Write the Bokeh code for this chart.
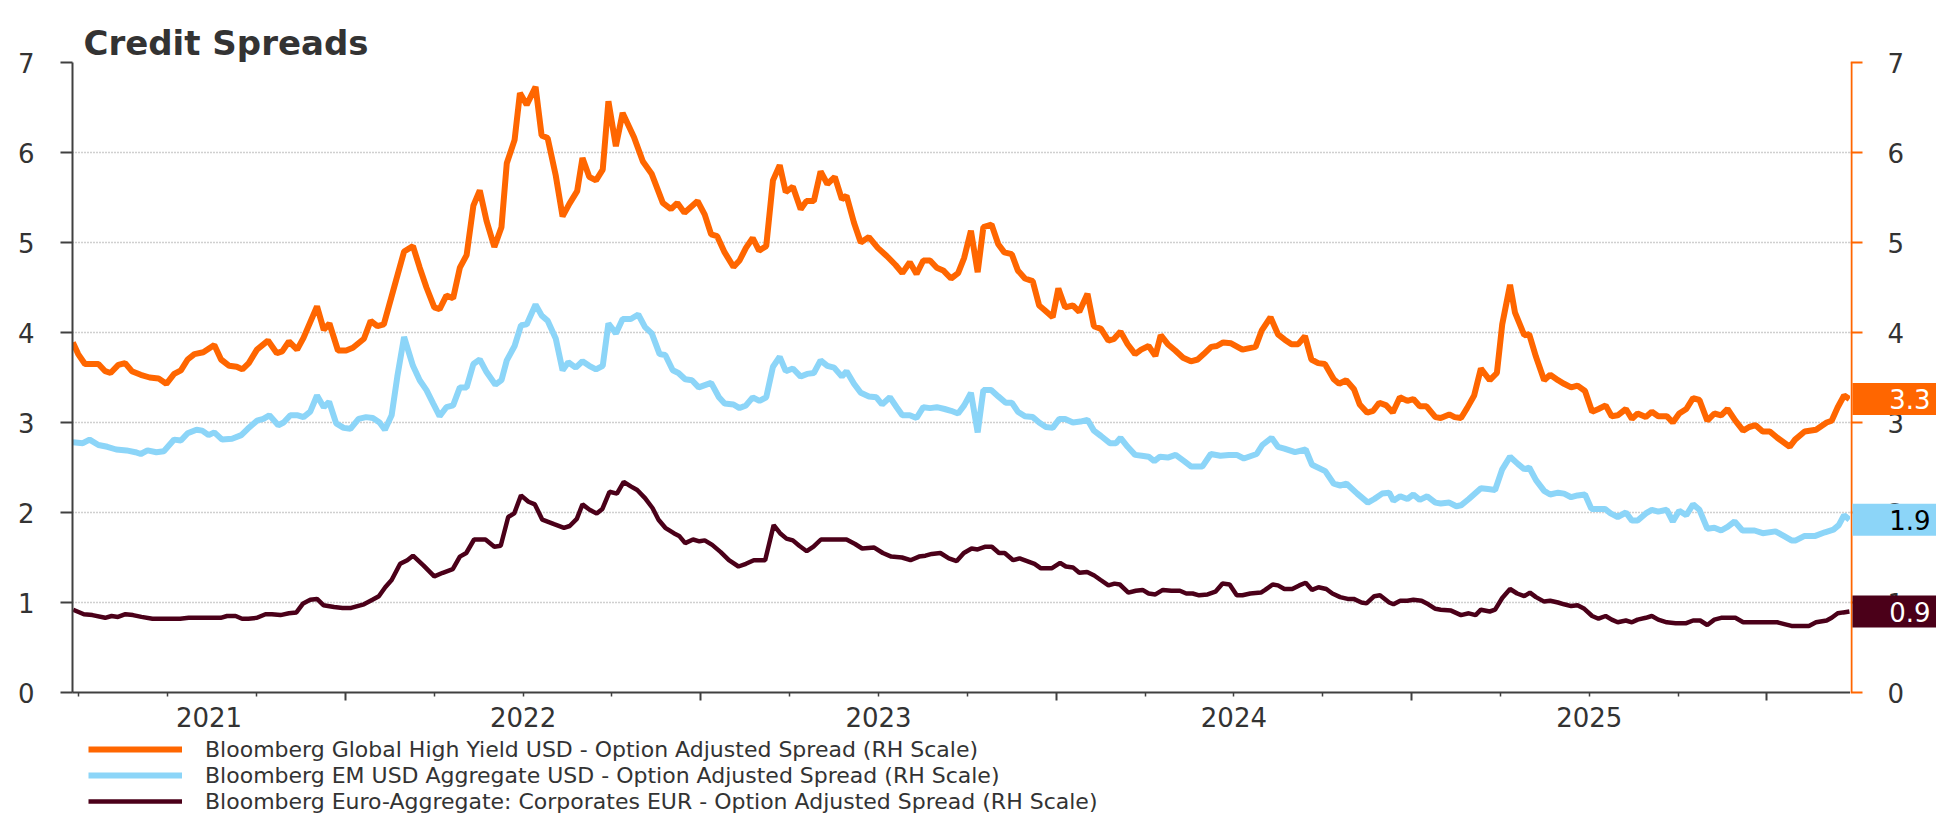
from bokeh.plotting import figure
from bokeh.layouts import row, column
from bokeh.models import (Range1d, LinearAxis, FixedTicker, CustomJSTickFormatter,
                          Legend, LegendItem)
from bokeh.core.properties import value
from bokeh.embed import file_html
from bokeh.resources import INLINE

# ---------------- data (decimal years, spread in %) ----------------
title_text = "Credit Spreads"
series_names = [
    "Bloomberg Global High Yield USD - Option Adjusted Spread (RH Scale)",
    "Bloomberg EM USD Aggregate USD - Option Adjusted Spread (RH Scale)",
    "Bloomberg Euro-Aggregate: Corporates EUR - Option Adjusted Spread (RH Scale)",
]
end_labels = ["3.3", "1.9", "0.9"]
y_ticks = [0, 1, 2, 3, 4, 5, 6, 7]
grid_ticks = [1, 2, 3, 4, 5, 6, 7]
x_start, x_end = 2021.232, 2026.235

hy_t = [
    2021.233, 2021.248, 2021.267, 2021.305, 2021.324, 2021.339, 2021.361, 2021.380, 2021.399, 2021.424,
    2021.449, 2021.474, 2021.496, 2021.518, 2021.537, 2021.556, 2021.575, 2021.600, 2021.631, 2021.650,
    2021.673, 2021.694, 2021.710, 2021.728, 2021.751, 2021.782, 2021.807, 2021.822, 2021.841, 2021.864,
    2021.882, 2021.920, 2021.939, 2021.955, 2021.979, 2022.002, 2022.021, 2022.052, 2022.071, 2022.090,
    2022.108, 2022.134, 2022.165, 2022.190, 2022.209, 2022.228, 2022.250, 2022.265, 2022.284, 2022.303,
    2022.322, 2022.341, 2022.360, 2022.378, 2022.397, 2022.419, 2022.439, 2022.454, 2022.476, 2022.491,
    2022.510, 2022.535, 2022.552, 2022.569, 2022.592, 2022.611, 2022.630, 2022.652, 2022.667, 2022.686,
    2022.705, 2022.724, 2022.740, 2022.761, 2022.780, 2022.812, 2022.837, 2022.862, 2022.893, 2022.916,
    2022.934, 2022.954, 2022.991,
    2023.011, 2023.029, 2023.046, 2023.067, 2023.092, 2023.109, 2023.127, 2023.146, 2023.164, 2023.184,
    2023.203, 2023.222, 2023.239, 2023.259, 2023.281, 2023.297, 2023.318, 2023.337, 2023.356, 2023.377,
    2023.397, 2023.410, 2023.431, 2023.450, 2023.473, 2023.498, 2023.523, 2023.548, 2023.567, 2023.588,
    2023.607, 2023.626, 2023.645, 2023.664, 2023.682, 2023.704, 2023.724, 2023.741, 2023.760, 2023.779,
    2023.795, 2023.818, 2023.837, 2023.854, 2023.875, 2023.892, 2023.912, 2023.934, 2023.952, 2023.967,
    2023.990, 2024.006, 2024.025, 2024.047, 2024.065, 2024.088, 2024.106, 2024.126, 2024.147, 2024.163,
    2024.181, 2024.201, 2024.222, 2024.239, 2024.260, 2024.279, 2024.294, 2024.314, 2024.335, 2024.357,
    2024.379, 2024.398, 2024.415, 2024.436, 2024.452, 2024.470, 2024.492, 2024.524, 2024.561, 2024.578,
    2024.603, 2024.624, 2024.643, 2024.662, 2024.681, 2024.700, 2024.718, 2024.737, 2024.756, 2024.781,
    2024.796, 2024.816, 2024.838, 2024.854, 2024.875, 2024.892, 2024.909, 2024.929, 2024.947, 2024.967,
    2024.988, 2025.005, 2025.023, 2025.042, 2025.067, 2025.082, 2025.106, 2025.121, 2025.139, 2025.156,
    2025.176, 2025.195, 2025.220, 2025.240, 2025.255, 2025.277, 2025.291, 2025.317, 2025.331, 2025.350,
    2025.373, 2025.390, 2025.412, 2025.429, 2025.449, 2025.467, 2025.488, 2025.508, 2025.526, 2025.546,
    2025.563, 2025.580, 2025.603, 2025.620, 2025.636, 2025.659, 2025.676, 2025.694, 2025.718, 2025.735,
    2025.753, 2025.773, 2025.792, 2025.810, 2025.832, 2025.852, 2025.871, 2025.889, 2025.911, 2025.933,
    2025.950, 2025.968, 2025.988, 2026.008, 2026.029, 2026.064, 2026.079, 2026.106, 2026.138, 2026.168,
    2026.182, 2026.199, 2026.217, 2026.232,
]
hy_v = [
    3.89, 3.76, 3.65, 3.65, 3.57, 3.55, 3.64, 3.66, 3.57, 3.53,
    3.50, 3.49, 3.43, 3.54, 3.58, 3.70, 3.76, 3.78, 3.86, 3.70,
    3.63, 3.62, 3.59, 3.66, 3.81, 3.91, 3.77, 3.79, 3.90, 3.81,
    3.94, 4.29, 4.03, 4.10, 3.80, 3.80, 3.83, 3.93, 4.13, 4.07,
    4.09, 4.46, 4.90, 4.96, 4.72, 4.50, 4.28, 4.26, 4.41, 4.38,
    4.72, 4.86, 5.41, 5.58, 5.24, 4.95, 5.17, 5.88, 6.14, 6.66,
    6.53, 6.73, 6.19, 6.16, 5.74, 5.29, 5.43, 5.57, 5.94, 5.73,
    5.69, 5.81, 6.57, 6.07, 6.44, 6.17, 5.90, 5.76, 5.44, 5.37,
    5.44, 5.33, 5.46,
    5.31, 5.09, 5.07, 4.89, 4.73, 4.80, 4.94, 5.05, 4.91, 4.96,
    5.69, 5.86, 5.56, 5.62, 5.37, 5.46, 5.46, 5.79, 5.65, 5.73,
    5.48, 5.52, 5.22, 5.00, 5.06, 4.94, 4.85, 4.75, 4.66, 4.78,
    4.65, 4.80, 4.80, 4.72, 4.69, 4.60, 4.66, 4.83, 5.13, 4.67,
    5.17, 5.20, 4.98, 4.89, 4.87, 4.69, 4.60, 4.57, 4.30, 4.25,
    4.17, 4.49, 4.28, 4.30, 4.23, 4.43, 4.07, 4.04, 3.91, 3.93,
    4.01, 3.87, 3.76, 3.81, 3.85, 3.74, 3.97, 3.87, 3.80, 3.72,
    3.68, 3.70, 3.76, 3.84, 3.85, 3.89, 3.88, 3.81, 3.84, 4.02,
    4.17, 3.98, 3.92, 3.87, 3.87, 3.96, 3.70, 3.66, 3.65, 3.48,
    3.43, 3.47, 3.37, 3.20, 3.11, 3.13, 3.22, 3.19, 3.11, 3.28,
    3.24, 3.26, 3.18, 3.18, 3.06, 3.05, 3.09, 3.06, 3.05, 3.16,
    3.30, 3.60, 3.47, 3.55, 4.09, 4.53, 4.22, 3.97, 3.98, 3.73,
    3.47, 3.53, 3.47, 3.43, 3.39, 3.41, 3.35, 3.12, 3.15, 3.19,
    3.07, 3.08, 3.15, 3.04, 3.10, 3.06, 3.12, 3.07, 3.07, 3.00,
    3.10, 3.15, 3.27, 3.25, 3.02, 3.10, 3.08, 3.15, 3.02, 2.91,
    2.95, 2.97, 2.90, 2.90, 2.83, 2.73, 2.81, 2.90, 2.92, 3.00,
    3.02, 3.17, 3.30, 3.26,
]

em_t = [
    2021.233, 2021.261, 2021.280, 2021.305, 2021.330, 2021.355, 2021.384, 2021.409, 2021.424, 2021.443,
    2021.468, 2021.489, 2021.518, 2021.537, 2021.556, 2021.581, 2021.597, 2021.615, 2021.631, 2021.653,
    2021.681, 2021.707, 2021.725, 2021.751, 2021.769, 2021.786, 2021.811, 2021.826, 2021.845, 2021.866,
    2021.882, 2021.901, 2021.920, 2021.939, 2021.954, 2021.974, 2021.995, 2022.014, 2022.037, 2022.058,
    2022.077, 2022.096, 2022.111, 2022.130, 2022.146, 2022.165, 2022.190, 2022.209, 2022.228, 2022.247,
    2022.265, 2022.284, 2022.303, 2022.322, 2022.341, 2022.360, 2022.378, 2022.397, 2022.422, 2022.439,
    2022.454, 2022.476, 2022.494, 2022.510, 2022.535, 2022.552, 2022.569, 2022.592, 2022.611, 2022.627,
    2022.648, 2022.667, 2022.686, 2022.705, 2022.724, 2022.740, 2022.761, 2022.780, 2022.803, 2022.824,
    2022.843, 2022.862, 2022.884, 2022.900, 2022.921, 2022.937, 2022.956, 2022.975, 2022.994,
    2023.029, 2023.051, 2023.067, 2023.092, 2023.109, 2023.127, 2023.146, 2023.165, 2023.184, 2023.203,
    2023.222, 2023.239, 2023.259, 2023.281, 2023.299, 2023.318, 2023.337, 2023.356, 2023.375, 2023.397,
    2023.410, 2023.431, 2023.450, 2023.473, 2023.494, 2023.510, 2023.532, 2023.551, 2023.567, 2023.588,
    2023.607, 2023.626, 2023.645, 2023.664, 2023.686, 2023.704, 2023.724, 2023.741, 2023.760, 2023.779,
    2023.795, 2023.817, 2023.837, 2023.858, 2023.875, 2023.892, 2023.912, 2023.934, 2023.952, 2023.971,
    2023.990, 2024.009, 2024.025, 2024.047, 2024.068, 2024.088, 2024.106, 2024.126, 2024.151, 2024.168,
    2024.181, 2024.201, 2024.222, 2024.241, 2024.260, 2024.276, 2024.292, 2024.314,
    2024.336, 2024.360, 2024.380, 2024.411, 2024.435, 2024.462, 2024.486, 2024.508, 2024.528, 2024.564,
    2024.580, 2024.606, 2024.624, 2024.642, 2024.672, 2024.702, 2024.720, 2024.757, 2024.781, 2024.799,
    2024.817, 2024.847, 2024.877, 2024.895, 2024.917, 2024.937,
    2024.949, 2024.968, 2024.988, 2025.005, 2025.023, 2025.044, 2025.067, 2025.082, 2025.106, 2025.126,
    2025.139, 2025.161, 2025.195, 2025.215, 2025.235, 2025.255, 2025.277, 2025.299, 2025.317, 2025.331,
    2025.350, 2025.373, 2025.390, 2025.412, 2025.429, 2025.449, 2025.467, 2025.488, 2025.506, 2025.524,
    2025.544, 2025.560, 2025.580, 2025.603, 2025.620, 2025.636, 2025.659, 2025.676, 2025.694, 2025.718,
    2025.735, 2025.753, 2025.773, 2025.792, 2025.810, 2025.832, 2025.852, 2025.871, 2025.889, 2025.909,
    2025.931, 2025.965, 2025.988, 2026.024, 2026.047, 2026.069, 2026.081, 2026.106, 2026.136, 2026.163,
    2026.187, 2026.202, 2026.217, 2026.232,
]
em_v = [
    2.78, 2.77, 2.81, 2.75, 2.73, 2.70, 2.69, 2.67, 2.65, 2.69,
    2.67, 2.68, 2.81, 2.80, 2.88, 2.92, 2.91, 2.86, 2.89, 2.81,
    2.82, 2.86, 2.93, 3.02, 3.04, 3.08, 2.97, 3.00, 3.08, 3.08,
    3.06, 3.12, 3.30, 3.17, 3.23, 2.99, 2.94, 2.93, 3.04, 3.06,
    3.05, 3.00, 2.92, 3.08, 3.51, 3.95, 3.63, 3.47, 3.36, 3.21,
    3.07, 3.17, 3.19, 3.39, 3.39, 3.65, 3.70, 3.56, 3.42, 3.47,
    3.69, 3.85, 4.08, 4.09, 4.31, 4.19, 4.13, 3.93, 3.58, 3.67,
    3.61, 3.68, 3.63, 3.59, 3.63, 4.10, 3.99, 4.15, 4.15, 4.20,
    4.06, 3.99, 3.76, 3.75, 3.58, 3.55, 3.48, 3.47, 3.39,
    3.44, 3.28, 3.21, 3.20, 3.16, 3.19, 3.28, 3.24, 3.28, 3.62,
    3.73, 3.57, 3.60, 3.51, 3.54, 3.55, 3.69, 3.63, 3.61, 3.51,
    3.57, 3.43, 3.33, 3.29, 3.28, 3.20, 3.28, 3.17, 3.08, 3.08,
    3.05, 3.17, 3.16, 3.17, 3.15, 3.13, 3.10, 3.19, 3.33, 2.89,
    3.36, 3.36, 3.29, 3.22, 3.22, 3.12, 3.07, 3.06, 3.00, 2.95,
    2.94, 3.04, 3.04, 3.00, 3.01, 3.03, 2.91, 2.85, 2.77, 2.77,
    2.83, 2.73, 2.64, 2.63, 2.62, 2.57, 2.62, 2.61,
    2.64, 2.57, 2.51, 2.51, 2.65, 2.63, 2.64, 2.64, 2.60, 2.65,
    2.75, 2.83, 2.73, 2.71, 2.67, 2.70, 2.53, 2.46, 2.32, 2.30,
    2.32, 2.21, 2.11, 2.15, 2.21, 2.22,
    2.13, 2.18, 2.15, 2.20, 2.14, 2.18, 2.11, 2.10, 2.11, 2.07,
    2.08, 2.15, 2.27, 2.26, 2.25, 2.48, 2.62, 2.54, 2.48, 2.50,
    2.36, 2.24, 2.20, 2.22, 2.21, 2.17, 2.19, 2.20, 2.04, 2.04,
    2.04, 1.99, 1.95, 2.00, 1.91, 1.91, 1.99, 2.03, 2.01, 2.03,
    1.90, 2.02, 1.97, 2.09, 2.03, 1.82, 1.83, 1.80, 1.84, 1.90,
    1.80, 1.80, 1.77, 1.79, 1.74, 1.69, 1.69, 1.74, 1.74, 1.78,
    1.81, 1.86, 1.97, 1.92,
]

eu_t = [
    2021.234, 2021.264, 2021.288, 2021.324, 2021.342, 2021.360, 2021.381, 2021.402, 2021.426, 2021.457,
    2021.487, 2021.535, 2021.559, 2021.595, 2021.649, 2021.667, 2021.691, 2021.709, 2021.727, 2021.751,
    2021.775, 2021.793, 2021.817, 2021.841, 2021.862, 2021.881, 2021.901, 2021.920, 2021.938, 2021.968,
    2021.992, 2022.016, 2022.052, 2022.076, 2022.094, 2022.112, 2022.130, 2022.154, 2022.174, 2022.190,
    2022.220, 2022.250, 2022.274, 2022.302, 2022.322, 2022.340, 2022.362, 2022.394, 2022.419, 2022.437,
    2022.458, 2022.475, 2022.494, 2022.515, 2022.533, 2022.554, 2022.587, 2022.615, 2022.631, 2022.651,
    2022.667, 2022.687, 2022.707, 2022.723, 2022.743, 2022.764, 2022.783, 2022.803, 2022.821, 2022.843,
    2022.864, 2022.881, 2022.900, 2022.924, 2022.939, 2022.956, 2022.978, 2022.996, 2023.011, 2023.032,
    2023.056,
    2023.079, 2023.106, 2023.127, 2023.149, 2023.181, 2023.205, 2023.223, 2023.241, 2023.259, 2023.277,
    2023.298, 2023.317, 2023.338, 2023.410, 2023.434, 2023.454, 2023.488, 2023.512, 2023.536, 2023.566,
    2023.590, 2023.614, 2023.632, 2023.650, 2023.674, 2023.698, 2023.720, 2023.740, 2023.762, 2023.779,
    2023.801, 2023.819, 2023.839, 2023.855, 2023.879, 2023.897, 2023.918, 2023.939, 2023.957, 2023.987,
    2024.011, 2024.027, 2024.047, 2024.065, 2024.087, 2024.107, 2024.125, 2024.147, 2024.164, 2024.179,
    2024.203, 2024.224, 2024.243, 2024.260, 2024.279, 2024.300, 2024.324, 2024.348, 2024.366, 2024.384,
    2024.402, 2024.426, 2024.448, 2024.468, 2024.488, 2024.508, 2024.524, 2024.546, 2024.576, 2024.588,
    2024.609, 2024.624, 2024.642, 2024.664, 2024.684, 2024.702, 2024.720, 2024.738, 2024.760, 2024.777,
    2024.799, 2024.820, 2024.837, 2024.859, 2024.873, 2024.895, 2024.911, 2024.937,
    2024.949, 2024.968, 2024.988, 2025.005, 2025.028, 2025.047, 2025.067, 2025.082, 2025.111, 2025.139,
    2025.161, 2025.180, 2025.195, 2025.220, 2025.235, 2025.255, 2025.277, 2025.297, 2025.317, 2025.333,
    2025.350, 2025.373, 2025.390, 2025.412, 2025.429, 2025.449, 2025.467, 2025.486, 2025.508, 2025.526,
    2025.546, 2025.563, 2025.580, 2025.603, 2025.620, 2025.636, 2025.659, 2025.676, 2025.694, 2025.718,
    2025.743, 2025.773, 2025.792, 2025.812, 2025.832, 2025.852, 2025.871, 2025.911, 2025.933, 2025.970,
    2026.029, 2026.049, 2026.069, 2026.118, 2026.138, 2026.168, 2026.182, 2026.199, 2026.215, 2026.232,
]
eu_v = [
    0.92, 0.87, 0.86, 0.83, 0.85, 0.84, 0.87, 0.86, 0.84, 0.82,
    0.82, 0.82, 0.83, 0.83, 0.83, 0.85, 0.85, 0.82, 0.82, 0.83,
    0.87, 0.87, 0.86, 0.88, 0.89, 0.99, 1.03, 1.04, 0.97, 0.95,
    0.94, 0.94, 0.98, 1.03, 1.07, 1.17, 1.25, 1.43, 1.47, 1.52,
    1.41, 1.29, 1.33, 1.37, 1.51, 1.55, 1.70, 1.70, 1.62, 1.63,
    1.95, 1.99, 2.19, 2.12, 2.09, 1.92, 1.87, 1.83, 1.85, 1.93,
    2.09, 2.03, 1.99, 2.04, 2.23, 2.21, 2.34, 2.29, 2.25, 2.16,
    2.05, 1.92, 1.83, 1.77, 1.74, 1.66, 1.70, 1.68, 1.69, 1.64,
    1.56,
    1.47, 1.40, 1.43, 1.47, 1.47, 1.86, 1.77, 1.71, 1.69, 1.63,
    1.57, 1.62, 1.70, 1.70, 1.65, 1.60, 1.61, 1.55, 1.51, 1.50,
    1.47, 1.51, 1.52, 1.54, 1.55, 1.49, 1.46, 1.55, 1.60, 1.59,
    1.62, 1.62, 1.55, 1.55, 1.47, 1.49, 1.46, 1.43, 1.38, 1.38,
    1.44, 1.40, 1.39, 1.33, 1.34, 1.30, 1.25, 1.19, 1.21, 1.20,
    1.11, 1.13, 1.14, 1.10, 1.09, 1.14, 1.13, 1.13, 1.10, 1.10,
    1.08, 1.09, 1.12, 1.21, 1.20, 1.08, 1.08, 1.10, 1.11, 1.14,
    1.20, 1.19, 1.15, 1.15, 1.19, 1.22, 1.14, 1.17, 1.15, 1.10,
    1.06, 1.04, 1.04, 1.00, 0.99, 1.07, 1.08, 1.00,
    0.98, 1.02, 1.02, 1.03, 1.02, 0.98, 0.93, 0.92, 0.91, 0.86,
    0.88, 0.86, 0.92, 0.90, 0.92, 1.05, 1.15, 1.10, 1.07, 1.11,
    1.06, 1.01, 1.02, 1.00, 0.98, 0.96, 0.97, 0.93, 0.85, 0.82,
    0.85, 0.81, 0.78, 0.80, 0.78, 0.81, 0.83, 0.85, 0.81, 0.78,
    0.77, 0.77, 0.80, 0.80, 0.75, 0.81, 0.83, 0.83, 0.78, 0.78,
    0.78, 0.76, 0.74, 0.74, 0.78, 0.80, 0.83, 0.88, 0.89, 0.90,
]

# ---------------- style ----------------
FONT = "DejaVu Sans"
TXT = "#333333"
AXIS_GREY = "#404040"
ORANGE = "#FF6600"
BLUE = "#8CD5F8"
MAROON = "#4B0019"

W_TOTAL, H_TOTAL = 1936, 814
W_MAIN = 1850
W_SIDE = W_TOTAL - W_MAIN
H_MAIN = 736
H_LEG = H_TOTAL - H_MAIN
ML, MT, MB = 72, 62, 44
frame_h = H_MAIN - MT - MB
ppu = frame_h / 7.0          # pixels per spread unit

# ================= main chart =================
p = figure(width=W_MAIN, height=H_MAIN, x_range=Range1d(x_start, x_end), y_range=Range1d(0, 7),
           output_backend="svg", toolbar_location=None,
           min_border_left=ML, min_border_right=0, min_border_top=MT, min_border_bottom=MB)
p.outline_line_color = None
p.background_fill_color = "white"
p.border_fill_color = "white"

# x axis (the figure's own bottom axis): year boundaries and quarters, no labels
xa = p.below[0]
year_bounds = [y for y in range(2021, 2027) if x_start <= y <= x_end]
quarters = [y + q / 4 for y in range(2021, 2027) for q in (1, 2, 3) if x_start <= y + q / 4 <= x_end]
xa.ticker = FixedTicker(ticks=year_bounds, minor_ticks=quarters)
xa.formatter = CustomJSTickFormatter(code="return ''")
xa.major_label_text_font_size = "0px"
xa.major_label_standoff = 0
xa.axis_line_color = AXIS_GREY
xa.axis_line_width = 2
xa.major_tick_line_color = AXIS_GREY
xa.major_tick_line_width = 2
xa.major_tick_out = 8
xa.major_tick_in = 0
xa.minor_tick_line_color = AXIS_GREY
xa.minor_tick_line_width = 1.5
xa.minor_tick_out = 4
xa.minor_tick_in = 0

# left y axis
ya = p.left[0]
ya.ticker = FixedTicker(ticks=y_ticks)
ya.axis_line_color = AXIS_GREY
ya.axis_line_width = 2
ya.major_tick_line_color = AXIS_GREY
ya.major_tick_line_width = 2
ya.major_tick_out = 12
ya.major_tick_in = 0
ya.minor_tick_line_color = None
ya.major_label_standoff = 26
ya.major_label_text_font = FONT
ya.major_label_text_font_size = "26px"
ya.major_label_text_color = TXT

p.xgrid.visible = False
p.ygrid.ticker = FixedTicker(ticks=grid_ticks)
p.ygrid.grid_line_color = "#a0a0a0"
p.ygrid.grid_line_dash = "1 2"
p.ygrid.grid_line_width = 1.5

# year labels centred in each visible calendar year
label_pos = []
for y in range(2021, 2027):
    lo, hi = max(y, x_start), min(y + 1, x_end)
    if hi - lo > 0.3:
        label_pos.append((lo + hi) / 2)
xb = LinearAxis(ticker=FixedTicker(ticks=label_pos),
                formatter=CustomJSTickFormatter(code="return Math.floor(tick).toFixed(0)"))
xb.axis_line_color = None
xb.major_tick_line_color = None
xb.minor_tick_line_color = None
xb.major_tick_out = 0
xb.major_tick_in = 0
xb.major_label_standoff = 6
xb.major_label_text_font = FONT
xb.major_label_text_font_size = "26px"
xb.major_label_text_color = TXT
p.add_layout(xb, "below")

# title, lifted by an empty band between it and the plot frame
p.title.text = title_text
p.title.text_font = FONT
p.title.text_font_style = "bold"
p.title.text_font_size = "34px"
p.title.text_color = TXT
p.title.align = "left"
p.title.offset = 11
p.title.standoff = 0

gap = LinearAxis(ticker=FixedTicker(ticks=[]), formatter=CustomJSTickFormatter(code="return ''"))
gap.axis_line_color = None
gap.major_tick_line_color = None
gap.minor_tick_line_color = None
gap.major_tick_out = 18
gap.major_tick_in = 0
gap.minor_tick_out = 0
gap.minor_tick_in = 0
gap.major_label_standoff = 0
gap.major_label_text_font_size = "0px"
p.add_layout(gap, "above")

p.line(eu_t, eu_v, line_color=MAROON, line_width=4.5)
p.line(em_t, em_v, line_color=BLUE, line_width=6)
p.line(hy_t, hy_v, line_color=ORANGE, line_width=6)

# ================= right-hand scale with end-value boxes =================
s = figure(width=W_SIDE, height=H_MAIN, x_range=Range1d(0, W_SIDE),
           y_range=Range1d(0, 7),
           output_backend="svg", toolbar_location=None,
           x_axis_location=None, y_axis_location=None,
           min_border_left=0, min_border_right=0, min_border_top=0, min_border_bottom=0)
s.outline_line_color = None
s.xgrid.visible = False
s.ygrid.visible = False
s.background_fill_color = "white"
s.border_fill_color = "white"

# ================= legend strip =================
lg = figure(width=W_TOTAL, height=H_LEG, x_range=Range1d(0, 1), y_range=Range1d(0, 1),
            output_backend="svg", toolbar_location=None,
            x_axis_location=None, y_axis_location=None,
            min_border_left=0, min_border_right=0, min_border_top=0, min_border_bottom=0)
lg.outline_line_color = None
lg.xgrid.visible = False
lg.ygrid.visible = False
lg.background_fill_color = "white"
lg.border_fill_color = "white"

# keep each plot frame independent of its neighbours (if this Bokeh supports it)
aligned = True
try:
    for fig in (p, s, lg):
        fig.frame_align = False
    aligned = False
except Exception:
    aligned = True

if not aligned:
    # side strip frame covers the whole strip: map spreads to the same pixel rows
    s.y_range = Range1d(-MB / ppu, 7 + MT / ppu)

s.segment(x0=[1], y0=[y_ticks[0]], x1=[1], y1=[y_ticks[-1]], line_color=ORANGE, line_width=2)
s.segment(x0=[0] * len(y_ticks), y0=y_ticks, x1=[12] * len(y_ticks), y1=y_ticks,
          line_color=ORANGE, line_width=2)
s.text(x=[37] * len(y_ticks), y=y_ticks, text=[str(t) for t in y_ticks],
       text_align="left", text_baseline="middle", text_font=value(FONT),
       text_font_size="26px", text_color=TXT)

end_vals = [hy_v[-1], em_v[-1], eu_v[-1]]
box_colors = [ORANGE, BLUE, MAROON]
text_colors = ["white", "black", "white"]
half = 16 / ppu
s.quad(left=[2] * 3, right=[W_SIDE] * 3,
       bottom=[v - half for v in end_vals], top=[v + half for v in end_vals],
       fill_color=box_colors, line_color=None)
s.text(x=[W_SIDE - 6] * 3, y=end_vals, text=end_labels, text_align="right",
       text_baseline="middle", text_font=value(FONT), text_font_size="26px",
       text_color=text_colors)

# the same three series (outside the strip's view) serve as legend entries
g_hy = lg.line(hy_t, hy_v, line_color=ORANGE, line_width=6)
g_em = lg.line(em_t, em_v, line_color=BLUE, line_width=6)
g_eu = lg.line(eu_t, eu_v, line_color=MAROON, line_width=4.5)
legend = Legend(items=[LegendItem(label=series_names[0], renderers=[g_hy]),
                       LegendItem(label=series_names[1], renderers=[g_em]),
                       LegendItem(label=series_names[2], renderers=[g_eu])],
                location=(88, 0), orientation="vertical",
                padding=0, margin=0, spacing=0,
                glyph_width=94, glyph_height=26, label_height=26, label_standoff=23,
                label_text_font=FONT, label_text_font_size="22px", label_text_color=TXT,
                background_fill_alpha=0, border_line_color=None)
lg.add_layout(legend)

layout = column(row(p, s), lg)
open("out.html", "w").write(file_html(layout, INLINE))
